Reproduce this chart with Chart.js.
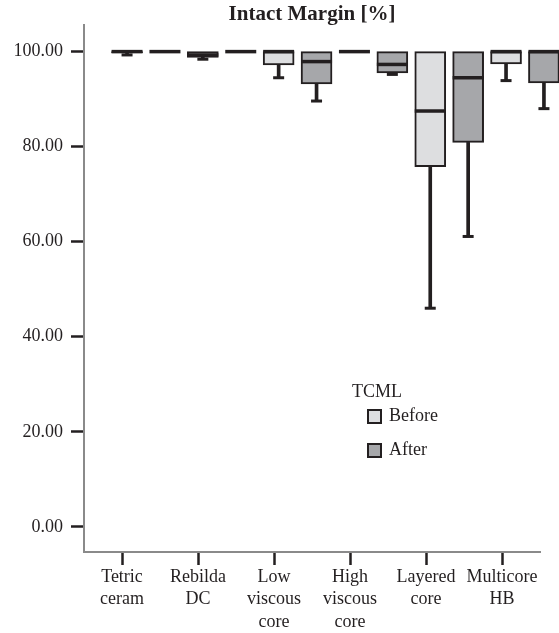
<!DOCTYPE html>
<html>
<head>
<meta charset="utf-8">
<script src="https://cdn.jsdelivr.net/npm/chart.js@4/dist/chart.umd.min.js"></script>
<style>
  html, body { margin: 0; padding: 0; background: #ffffff; }
  #wrap { position: relative; width: 559px; height: 633px; }
  canvas { display: block; }
</style>
</head>
<body>
<div id="wrap"><canvas id="c" width="559" height="633"></canvas></div>
<script>
// ---- data ----
const categories = [["Tetric","ceram"],["Rebilda","DC"],["Low","viscous","core"],["High","viscous","core"],["Layered","core"],["Multicore","HB"]];
const yTickValues = [0, 20, 40, 60, 80, 100];
const chartTitle = "Intact Margin [%]";
const legendTitle = "TCML";
const seriesNames = ["Before", "After"];

const beforeMin = [99.3, 98.4, 94.5, 100, 46.0, 93.9];
const beforeQ1  = [99.8, 98.8, 97.2, 100, 75.8, 97.4];
const beforeMed = [100, 99.3, 100, 100, 87.5, 100];
const beforeQ3  = [100, 100, 100, 100, 100, 100];

const afterMin = [100, 100, 89.6, 95.2, 61.1, 88.0];
const afterQ1  = [100, 100, 93.2, 95.5, 80.9, 93.4];
const afterMed = [100, 100, 97.9, 97.3, 94.5, 100];
const afterQ3  = [100, 100, 100, 100, 100, 100];

// ---- styles ----
const INK = '#231f20';
const AXIS = '#8a8a8a';
const LIGHT = '#dddee0';
const DARK = '#a6a7aa';
const FONT = '"Liberation Serif", "Times New Roman", serif';
const groupShift = [-0.25, 0.25];

function boxData(q1, q3, s) { return q1.map((v, i) => ({ x: i + groupShift[s], y: [v, q3[i]] })); }
function whiskerData(mn, q1, s) { return mn.map((v, i) => v < q1[i] ? ({ x: i + groupShift[s], y: [v, q1[i]] }) : null).filter(Boolean); }
function pointData(vals, s, cond) { return vals.map((v, i) => (cond ? cond(i) : true) ? ({ x: i + groupShift[s], y: v }) : null).filter(Boolean); }

const series = [
  { name: seriesNames[0], mn: beforeMin, q1: beforeQ1, med: beforeMed, q3: beforeQ3, fill: LIGHT },
  { name: seriesNames[1], mn: afterMin, q1: afterQ1, med: afterMed, q3: afterQ3, fill: DARK }
];

const datasets = [];
series.forEach((s, k) => {
  datasets.push({
    type: 'bar', label: s.name + ' whisker', xAxisID: 'xb', yAxisID: 'y',
    data: whiskerData(s.mn, s.q1, k), backgroundColor: INK, borderWidth: 0,
    barThickness: 3, grouped: false, order: 3, clip: false
  });
  datasets.push({
    type: 'bar', label: s.name, xAxisID: 'xb', yAxisID: 'y',
    data: boxData(s.q1, s.q3, k), backgroundColor: s.fill, borderColor: INK, borderWidth: 2,
    borderSkipped: false, barThickness: 31, grouped: false, order: 2, clip: false
  });
  datasets.push({
    type: 'scatter', label: s.name + ' cap', xAxisID: 'xb', yAxisID: 'y',
    data: pointData(s.mn, k, i => s.mn[i] < s.q1[i]), pointStyle: 'line', pointRadius: 5.5,
    pointBorderWidth: 3, borderColor: INK, backgroundColor: INK, order: 1, clip: false
  });
  datasets.push({
    type: 'scatter', label: s.name + ' median', xAxisID: 'xb', yAxisID: 'y',
    data: pointData(s.med, k), pointStyle: 'line', pointRadius: 15.5,
    pointBorderWidth: 3.5, borderColor: INK, backgroundColor: INK, order: 0, clip: false
  });
});

const overlay = {
  id: 'overlay',
  afterDraw(chart) {
    const ctx = chart.ctx, a = chart.chartArea;
    ctx.save();
    ctx.fillStyle = INK;
    ctx.textBaseline = 'middle';
    // title
    ctx.font = 'bold 21px ' + FONT;
    ctx.textAlign = 'center';
    ctx.fillText(chartTitle, (a.left + a.right) / 2, 15);
    // legend
    ctx.font = '18px ' + FONT;
    ctx.textAlign = 'left';
    ctx.fillText(legendTitle, 352, 392);
    const rows = [416.5, 450.5];
    series.forEach((s, k) => {
      ctx.fillStyle = s.fill;
      ctx.fillRect(368, rows[k] - 6.5, 13, 13);
      ctx.strokeStyle = INK; ctx.lineWidth = 2;
      ctx.strokeRect(368, rows[k] - 6.5, 13, 13);
      ctx.fillStyle = INK;
      ctx.fillText(s.name, 389, rows[k]);
    });
    ctx.restore();
  }
};

new Chart(document.getElementById('c'), {
  type: 'bar',
  data: { datasets },
  options: {
    responsive: false,
    animation: false,
    events: [],
    layout: { padding: { top: 25, right: 19, bottom: 0, left: 0 } },
    plugins: { legend: { display: false }, title: { display: false }, tooltip: { enabled: false } },
    scales: {
      x: {
        type: 'category', labels: categories, offset: true, position: 'bottom',
        grid: { display: true, drawOnChartArea: false, offset: false, tickLength: 13, tickColor: INK, tickWidth: 2.5 },
        border: { display: true, color: AXIS, width: 2 },
        ticks: { color: INK, font: { family: FONT, size: 18, lineHeight: 1.25 }, padding: 1, maxRotation: 0, autoSkip: false },
        afterFit(s) { s.height = 81; }
      },
      xb: { type: 'linear', display: false, offset: false, grid: { offset: false }, min: -0.818, max: 5.198 },
      y: {
        type: 'linear', min: -5.3, max: 105.6, position: 'left',
        afterBuildTicks(s) { s.ticks = yTickValues.map(v => ({ value: v })); },
        ticks: { color: INK, font: { family: FONT, size: 18 }, padding: 8, callback: v => Number(v).toFixed(2) },
        grid: { display: true, drawOnChartArea: false, tickLength: 13, tickColor: INK, tickWidth: 2.5 },
        border: { display: true, color: AXIS, width: 2 },
        afterFit(s) { s.width = 84; }
      }
    }
  },
  plugins: [overlay]
});
</script>
</body>
</html>
